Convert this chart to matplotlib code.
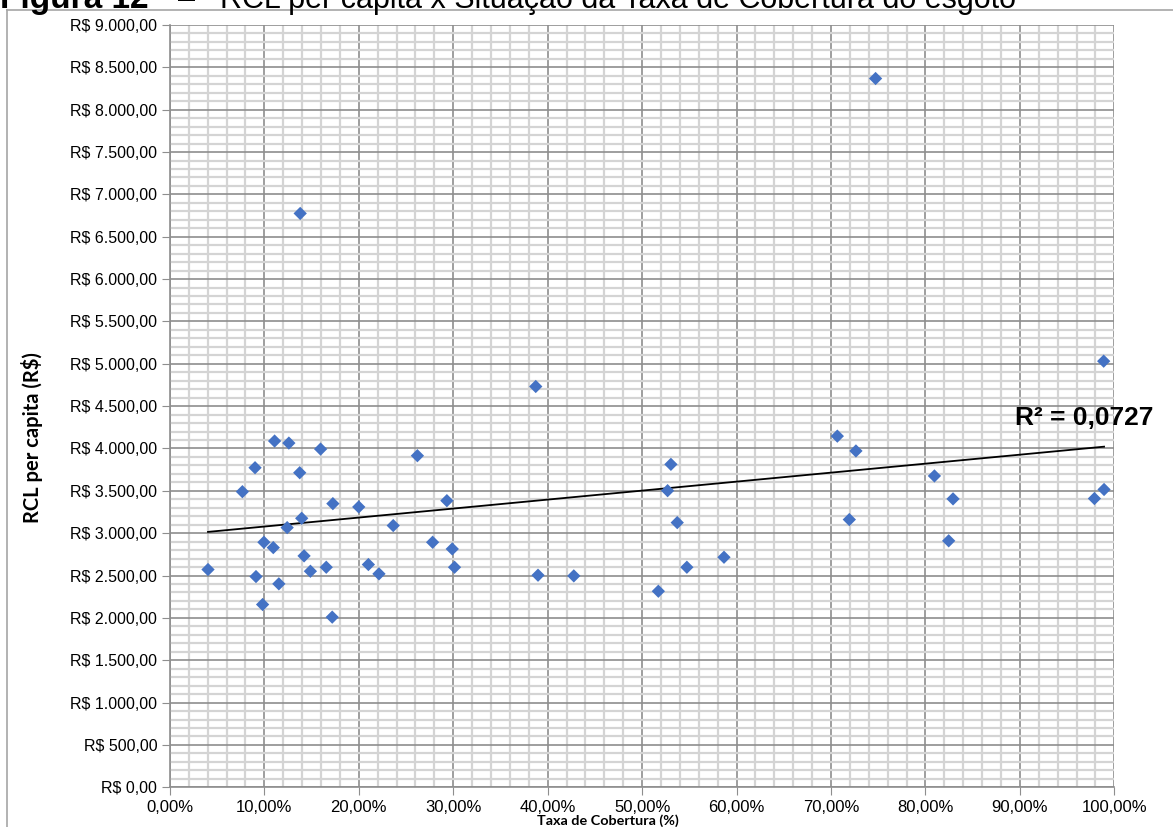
import numpy as np
import matplotlib.pyplot as plt
from matplotlib.ticker import MultipleLocator, FuncFormatter
from matplotlib.lines import Line2D

plt.rcParams['font.family'] = ['Liberation Sans', 'DejaVu Sans']

# Taxa de cobertura (%) e RCL per capita (R$) por município
taxa = [4.04, 7.68, 9.02, 9.12, 9.82, 9.96, 10.95, 11.09, 11.54, 12.42,
        12.60, 13.75, 13.96, 14.21, 14.88, 15.96, 16.56, 17.19, 17.26, 20.0,
        21.02, 22.14, 23.65, 26.21, 27.82, 13.80, 29.33, 29.90, 30.14, 38.74,
        38.98, 42.77, 51.72, 53.05, 52.70, 53.72, 54.74, 58.67, 74.72, 98.87,
        70.67, 72.64, 80.95, 82.92, 71.94, 82.46, 97.89, 98.91]
rcl = [2571, 3490, 3773, 2488, 2158, 2893, 2830, 4088, 2402, 3066,
       4064, 3714, 3176, 2732, 2551, 3993, 2598, 2009, 3349, 3310,
       2630, 2520, 3090, 3915, 2893, 6775, 3384, 2814, 2598, 4732,
       2504, 2496, 2315, 3813, 3502, 3125, 2598, 2716, 8368, 5031,
       4146, 3971, 3676, 3405, 3161, 2910, 3409, 3516]

r2_label = 'R² = 0,0727'

fig = plt.figure(figsize=(11.73, 8.27), dpi=100)
ax = fig.add_axes([0.1448, 0.048, 0.8052, 0.9218])

# grade principal e secundária
ax.xaxis.set_major_locator(MultipleLocator(10))
ax.xaxis.set_minor_locator(MultipleLocator(2))
ax.yaxis.set_major_locator(MultipleLocator(500))
ax.yaxis.set_minor_locator(MultipleLocator(100))
ax.grid(which='minor', color='#d4d4d4', lw=1.6, zorder=0)
ax.grid(which='major', color='#8e8e8e', lw=1.2, zorder=0.5)
ax.set_axisbelow(True)

ax.scatter(taxa, rcl, marker='D', s=46, color='#4472C4', edgecolor='none', zorder=3)

# linha de tendência linear
x = np.array(taxa)
y = np.array(rcl)
a, b = np.polyfit(x, y, 1)
xs = np.array([x.min(), x.max()])
ax.plot(xs, a * xs + b, color='black', lw=1.3, zorder=2)
ax.text(104.1, 4215, r2_label, fontsize=19, fontweight='bold', ha='right', va='bottom')

ax.set_xlim(0, 100)
ax.set_ylim(0, 9000)

def fmt_real(v, pos):
    s = f'{v:,.2f}'.replace(',', '#').replace('.', ',').replace('#', '.')
    return 'R$ ' + s

def fmt_pct(v, pos):
    return f'{v:.2f}%'.replace('.', ',')

ax.yaxis.set_major_formatter(FuncFormatter(fmt_real))
ax.xaxis.set_major_formatter(FuncFormatter(fmt_pct))
ax.tick_params(which='major', length=6, color='#8e8e8e', labelsize=11.5, pad=3)
ax.tick_params(axis='x', labelsize=12)
ax.tick_params(which='minor', length=0)
for s in ['top', 'right']:
    ax.spines[s].set_visible(False)
for s in ['left', 'bottom']:
    ax.spines[s].set_color('#8e8e8e')
    ax.spines[s].set_linewidth(1.2)

fig.text(608 / 1173, 1 - 821 / 827, 'Taxa de Cobertura (%)', fontsize=10.4,
         fontweight='bold', family=['Lato', 'DejaVu Sans'], ha='center', va='center')
fig.text(32 / 1173, 1 - 438 / 827, 'RCL per capita (R$)', fontsize=14.5,
         fontweight='bold', family=['Lato', 'DejaVu Sans'], rotation=90,
         ha='center', va='center')

# moldura do gráfico
fig.add_artist(Line2D([7 / 1173, 7 / 1173], [0, 1 - 10 / 827], color='#a6a6a6', lw=1.2))
fig.add_artist(Line2D([7 / 1173, 1], [1 - 10 / 827, 1 - 10 / 827], color='#a6a6a6', lw=1.2))

# título da figura (parte superior fora da área)
fig.text(0.0, 1 - 8 / 827, 'Figura 12', fontsize=24, fontweight='bold', va='baseline')
fig.text(178 / 1173, 1 - 8 / 827, '–', fontsize=22, va='baseline')
fig.text(220 / 1173, 1 - 8 / 827, 'RCL per capita x Situação da Taxa de Cobertura do esgoto',
         fontsize=22, va='baseline')

fig.savefig('out.png', dpi=100)
